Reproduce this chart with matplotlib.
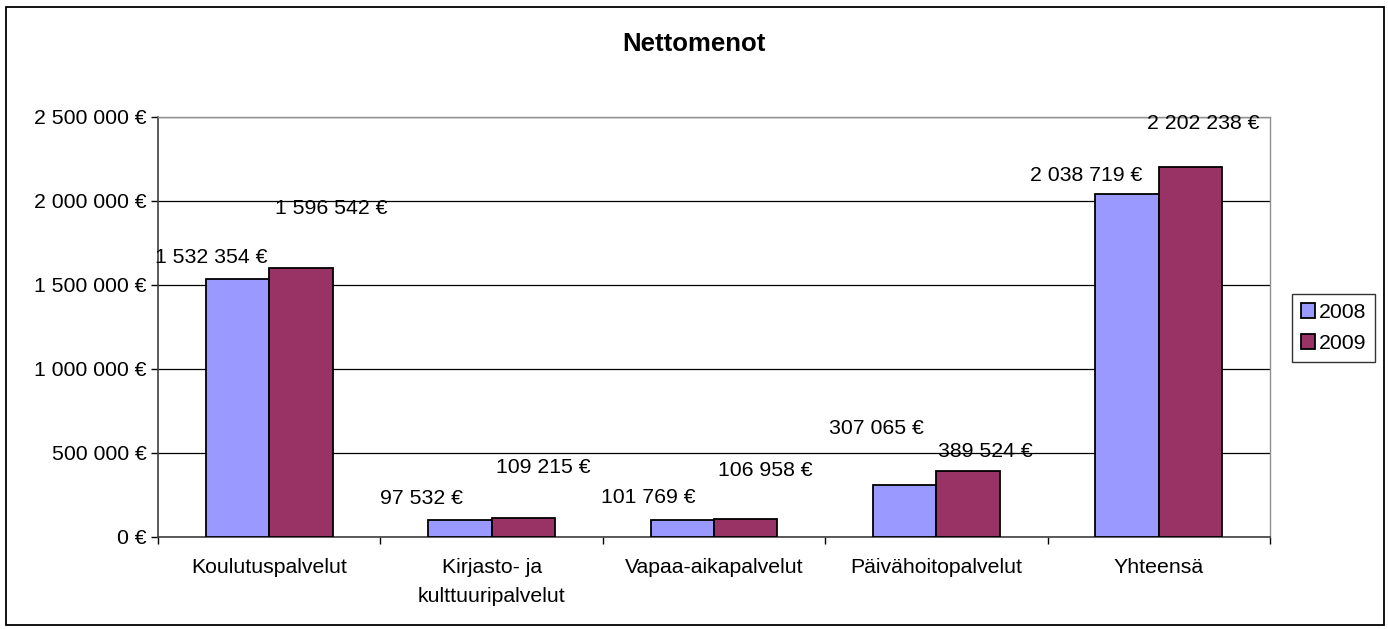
import numpy as np
import matplotlib.pyplot as plt
from matplotlib.patches import Rectangle
from matplotlib.ticker import FuncFormatter

plt.rcParams['font.family'] = ['Liberation Sans', 'DejaVu Sans']

# data
categories = ['Koulutuspalvelut', 'Kirjasto- ja\nkulttuuripalvelut', 'Vapaa-aikapalvelut',
              'Päivähoitopalvelut', 'Yhteensä']
years = ['2008', '2009']
v2008 = [1532354, 97532, 101769, 307065, 2038719]
v2009 = [1596542, 109215, 106958, 389524, 2202238]

# label placement (pixel offsets from bar top centre), Excel put them a bit oddly
off2008 = [(-26, 22), (-38, 22), (-34, 22), (-28, 57), (-41, 19)]
off2009 = [(30, 60), (20, 51), (20, 48), (17, 20), (13, 43)]

FS = 15.3


def euro(v, pos=None):
    return '{:,}'.format(int(v)).replace(',', ' ') + ' €'


fig = plt.figure(figsize=(13.88, 6.29), dpi=100)
ax = fig.add_axes([158 / 1388, 1 - 536.7 / 629, (1270 - 158) / 1388, (536.7 - 116.7) / 629])

x = np.arange(len(categories))
w = 0.285
b1 = ax.bar(x - w / 2, v2008, w, color='#9999FF', edgecolor='black', linewidth=1.3, label=years[0], zorder=3)
b2 = ax.bar(x + w / 2, v2009, w, color='#993366', edgecolor='black', linewidth=1.3, label=years[1], zorder=3)

for bars, vals, offs in [(b1, v2008, off2008), (b2, v2009, off2009)]:
    for bar, v, (dx, dy) in zip(bars, vals, offs):
        ax.annotate(euro(v), (bar.get_x() + bar.get_width() / 2, v), xytext=(dx, dy),
                    textcoords='offset pixels', ha='center', va='center', fontsize=FS, zorder=4)

ax.set_xlim(-0.5, len(categories) - 0.5)
ax.set_ylim(0, 2500000)
ax.set_yticks(np.arange(0, 2500001, 500000))
ax.yaxis.set_major_formatter(FuncFormatter(euro))
ax.grid(axis='y', color='black', linewidth=0.9, zorder=0)

ax.set_xticks(x)
ax.set_xticklabels(categories, fontsize=FS, linespacing=1.7)
ax.set_xticks(np.arange(-0.5, len(categories)), minor=True)
ax.tick_params(axis='x', which='major', length=0, pad=15)
ax.tick_params(axis='x', which='minor', length=5, width=1, direction='out')
ax.tick_params(axis='y', labelsize=FS, length=5, width=1, pad=3)

for s in ['top', 'right']:
    ax.spines[s].set_color('#909090')
    ax.spines[s].set_linewidth(1)
for s in ['left', 'bottom']:
    ax.spines[s].set_color('#404040')
    ax.spines[s].set_linewidth(1.2)

fig.text(694 / 1388, 1 - 44 / 629, 'Nettomenot', ha='center', va='center', fontsize=18.5, fontweight='bold')

leg = fig.legend(loc='upper left', bbox_to_anchor=(1292 / 1388, 1 - 294 / 629), fontsize=FS,
                 frameon=True, fancybox=False, handlelength=0.7, handleheight=0.7,
                 handletextpad=0.15, borderpad=0.4, labelspacing=0.6, borderaxespad=0)
leg.get_frame().set_edgecolor('black')
leg.get_frame().set_linewidth(1)

fig.patches.append(Rectangle((6 / 1388, 4 / 629), 1378 / 1388, 618 / 629, transform=fig.transFigure,
                             fill=False, edgecolor='black', linewidth=1.3))

fig.savefig('out.png', dpi=100)
